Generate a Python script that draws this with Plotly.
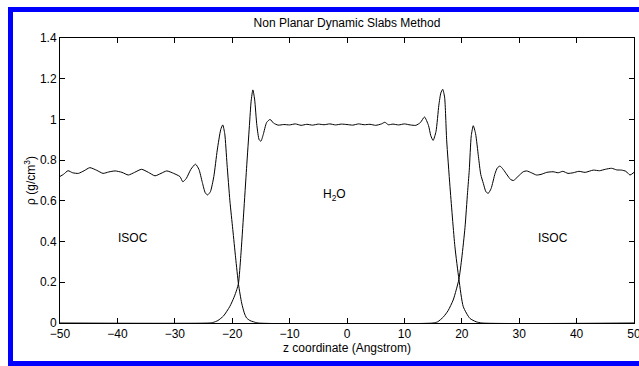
import plotly.graph_objects as go

# ---- data ----
isoc_z = [-50, -49.4, -48.6, -47.8, -46.8, -45.8, -44.8, -43.6, -42.5, -41.5, -40.4, -39.2,
          -38.1, -37.0, -35.8, -34.6, -33.45, -32.4, -31.4, -30.2, -29.1, -28.6, -28.0, -27.2,
          -26.4, -25.8, -25.2, -24.7, -24.3, -23.8, -23.2, -22.6, -22.0, -21.65, -21.3, -20.9,
          -20.4, -19.9, -19.4, -18.9, -18.35, -17.9, -17.5, -16.9, -16.3, -15.5,
          15.0, 15.8, 16.8, 17.6, 18.5, 19.0, 19.5, 20.0, 20.56, 21.0, 21.3, 21.65, 22.0, 22.4,
          22.9, 23.3, 23.75, 24.2, 24.6, 25.1, 25.8, 26.2, 26.65, 27.2, 27.9, 28.5, 29.0, 29.8,
          30.7, 31.3, 32.2, 33.0, 33.8, 34.8, 35.9, 36.8, 37.6, 38.5, 39.4, 40.4, 41.5, 42.9,
          44.0, 45.0, 46.1, 47.0, 47.85, 48.6, 49.3, 50.0]
isoc_rho = [0.72, 0.73, 0.748, 0.738, 0.735, 0.748, 0.763, 0.75, 0.735, 0.742, 0.747, 0.74,
            0.727, 0.74, 0.755, 0.74, 0.723, 0.735, 0.747, 0.735, 0.719, 0.694, 0.71, 0.755,
            0.78, 0.755, 0.69, 0.64, 0.629, 0.645, 0.72, 0.85, 0.95, 0.973, 0.93, 0.78,
            0.6, 0.46, 0.32, 0.19, 0.098, 0.05, 0.025, 0.012, 0.006, 0.0,
            0.0, 0.006, 0.03, 0.06, 0.113, 0.16, 0.215, 0.32, 0.47, 0.64, 0.75, 0.92, 0.969, 0.93,
            0.817, 0.73, 0.686, 0.645, 0.637, 0.66, 0.735, 0.762, 0.771, 0.755, 0.727, 0.705, 0.70, 0.72,
            0.743, 0.747, 0.737, 0.727, 0.73, 0.74, 0.743, 0.738, 0.745, 0.735, 0.738, 0.745, 0.74, 0.751,
            0.748, 0.755, 0.76, 0.752, 0.751, 0.745, 0.727, 0.74]

water_z = [-50, -24.0, -23.3, -22.5, -21.5, -20.4, -19.7, -19.2, -18.9, -18.5, -18.0, -17.5,
           -17.0, -16.7, -16.4, -16.1, -15.7, -15.3, -15.0, -14.6, -14.0, -13.4, -12.8, -12.0,
           -11.0, -10.0, -9.0, -8.0, -7.0, -6.0, -5.0, -4.0, -3.0, -2.0, -1.0, 0.0, 1.0, 2.0,
           3.0, 4.0, 5.0, 6.0, 6.6, 7.2, 8.0, 9.0, 10.0, 11.0, 12.0, 12.8, 13.5, 14.2, 14.6,
           15.0, 15.5, 16.0, 16.35, 16.67, 17.0, 17.36, 17.94, 18.8, 19.5, 20.26, 21.4, 22.5,
           23.5, 50]
water_rho = [0.0, 0.0, 0.003, 0.012, 0.035, 0.082, 0.125, 0.164, 0.196, 0.33, 0.54, 0.76,
             0.97, 1.09, 1.145, 1.10, 0.97, 0.90, 0.893, 0.925, 0.985, 1.0, 0.982, 0.972,
             0.975, 0.973, 0.978, 0.971, 0.976, 0.972, 0.977, 0.974, 0.978, 0.973, 0.977, 0.975, 0.972, 0.978,
             0.974, 0.976, 0.971, 0.978, 0.986, 0.974, 0.977, 0.973, 0.978, 0.973, 0.971, 0.985, 1.012, 0.97, 0.92,
             0.897, 0.94, 1.07, 1.13, 1.148, 1.11, 0.9, 0.67, 0.375, 0.215, 0.08, 0.023, 0.006,
             0.0, 0.0]

labels_text = ["ISOC", "H<sub>2</sub>O", "ISOC"]
labels_z = [-37.3, -2.1, 35.9]
labels_rho = [0.42, 0.63, 0.42]

x_ticks = [-50, -40, -30, -20, -10, 0, 10, 20, 30, 40, 50]
y_ticks = [0, 0.2, 0.4, 0.6, 0.8, 1, 1.2, 1.4]

FONT = "Liberation Sans, Arial, Helvetica, sans-serif"

fig = go.Figure()
fig.add_trace(go.Scatter(x=isoc_z, y=isoc_rho, mode="lines",
                         line=dict(color="black", width=1, shape="spline", smoothing=0.6),
                         showlegend=False))
fig.add_trace(go.Scatter(x=water_z, y=water_rho, mode="lines",
                         line=dict(color="black", width=1, shape="spline", smoothing=0.6),
                         showlegend=False))

for t, zx, ry in zip(labels_text, labels_z, labels_rho):
    fig.add_annotation(x=zx, y=ry, text=t, showarrow=False,
                       font=dict(family=FONT, size=12, color="black"))

# blue frame (pixel -> paper conversion)
L, R, T, B, W, H = 60, 5, 38, 43, 639, 366
pw, ph = W - L - R, H - T - B
def px(x):
    return (x - L) / pw
def py(y):
    return (H - B - y) / ph
blue = "rgb(0,0,255)"
for (x0, y0, x1, y1) in [(8, 7, 639, 12), (8, 7, 13, 366), (8, 361, 639, 366)]:
    fig.add_shape(type="rect", xref="paper", yref="paper",
                  x0=px(x0), x1=px(x1), y0=py(y1), y1=py(y0),
                  fillcolor=blue, line=dict(width=0), layer="above")

fig.update_layout(
    width=W, height=H,
    margin=dict(l=L, r=R, t=T, b=B, autoexpand=False),
    paper_bgcolor="white", plot_bgcolor="white",
    font=dict(family=FONT, size=12, color="black"),
    title=dict(text="Non Planar Dynamic Slabs Method", x=0.5, xref="paper",
               y=1 - 23 / H, yanchor="middle", font=dict(size=12)),
)
fig.update_xaxes(range=[-50, 50], tickvals=x_ticks, ticks="inside", ticklen=5,
                 showline=True, linecolor="black", linewidth=1, mirror="ticks",
                 showgrid=False, zeroline=False, tickcolor="black",
                 ticklabeloverflow="allow", automargin=False,
                 title=dict(text="z coordinate (Angstrom)", standoff=3, font=dict(size=12)))
fig.update_yaxes(range=[0, 1.4], tickvals=y_ticks, ticks="inside", ticklen=5,
                 showline=True, linecolor="black", linewidth=1, mirror="ticks",
                 showgrid=False, zeroline=False, tickcolor="black", automargin=False,
                 title=dict(text="ρ (g/cm<sup>3</sup>)", standoff=1, font=dict(size=12)))

fig.write_html("out.html")
